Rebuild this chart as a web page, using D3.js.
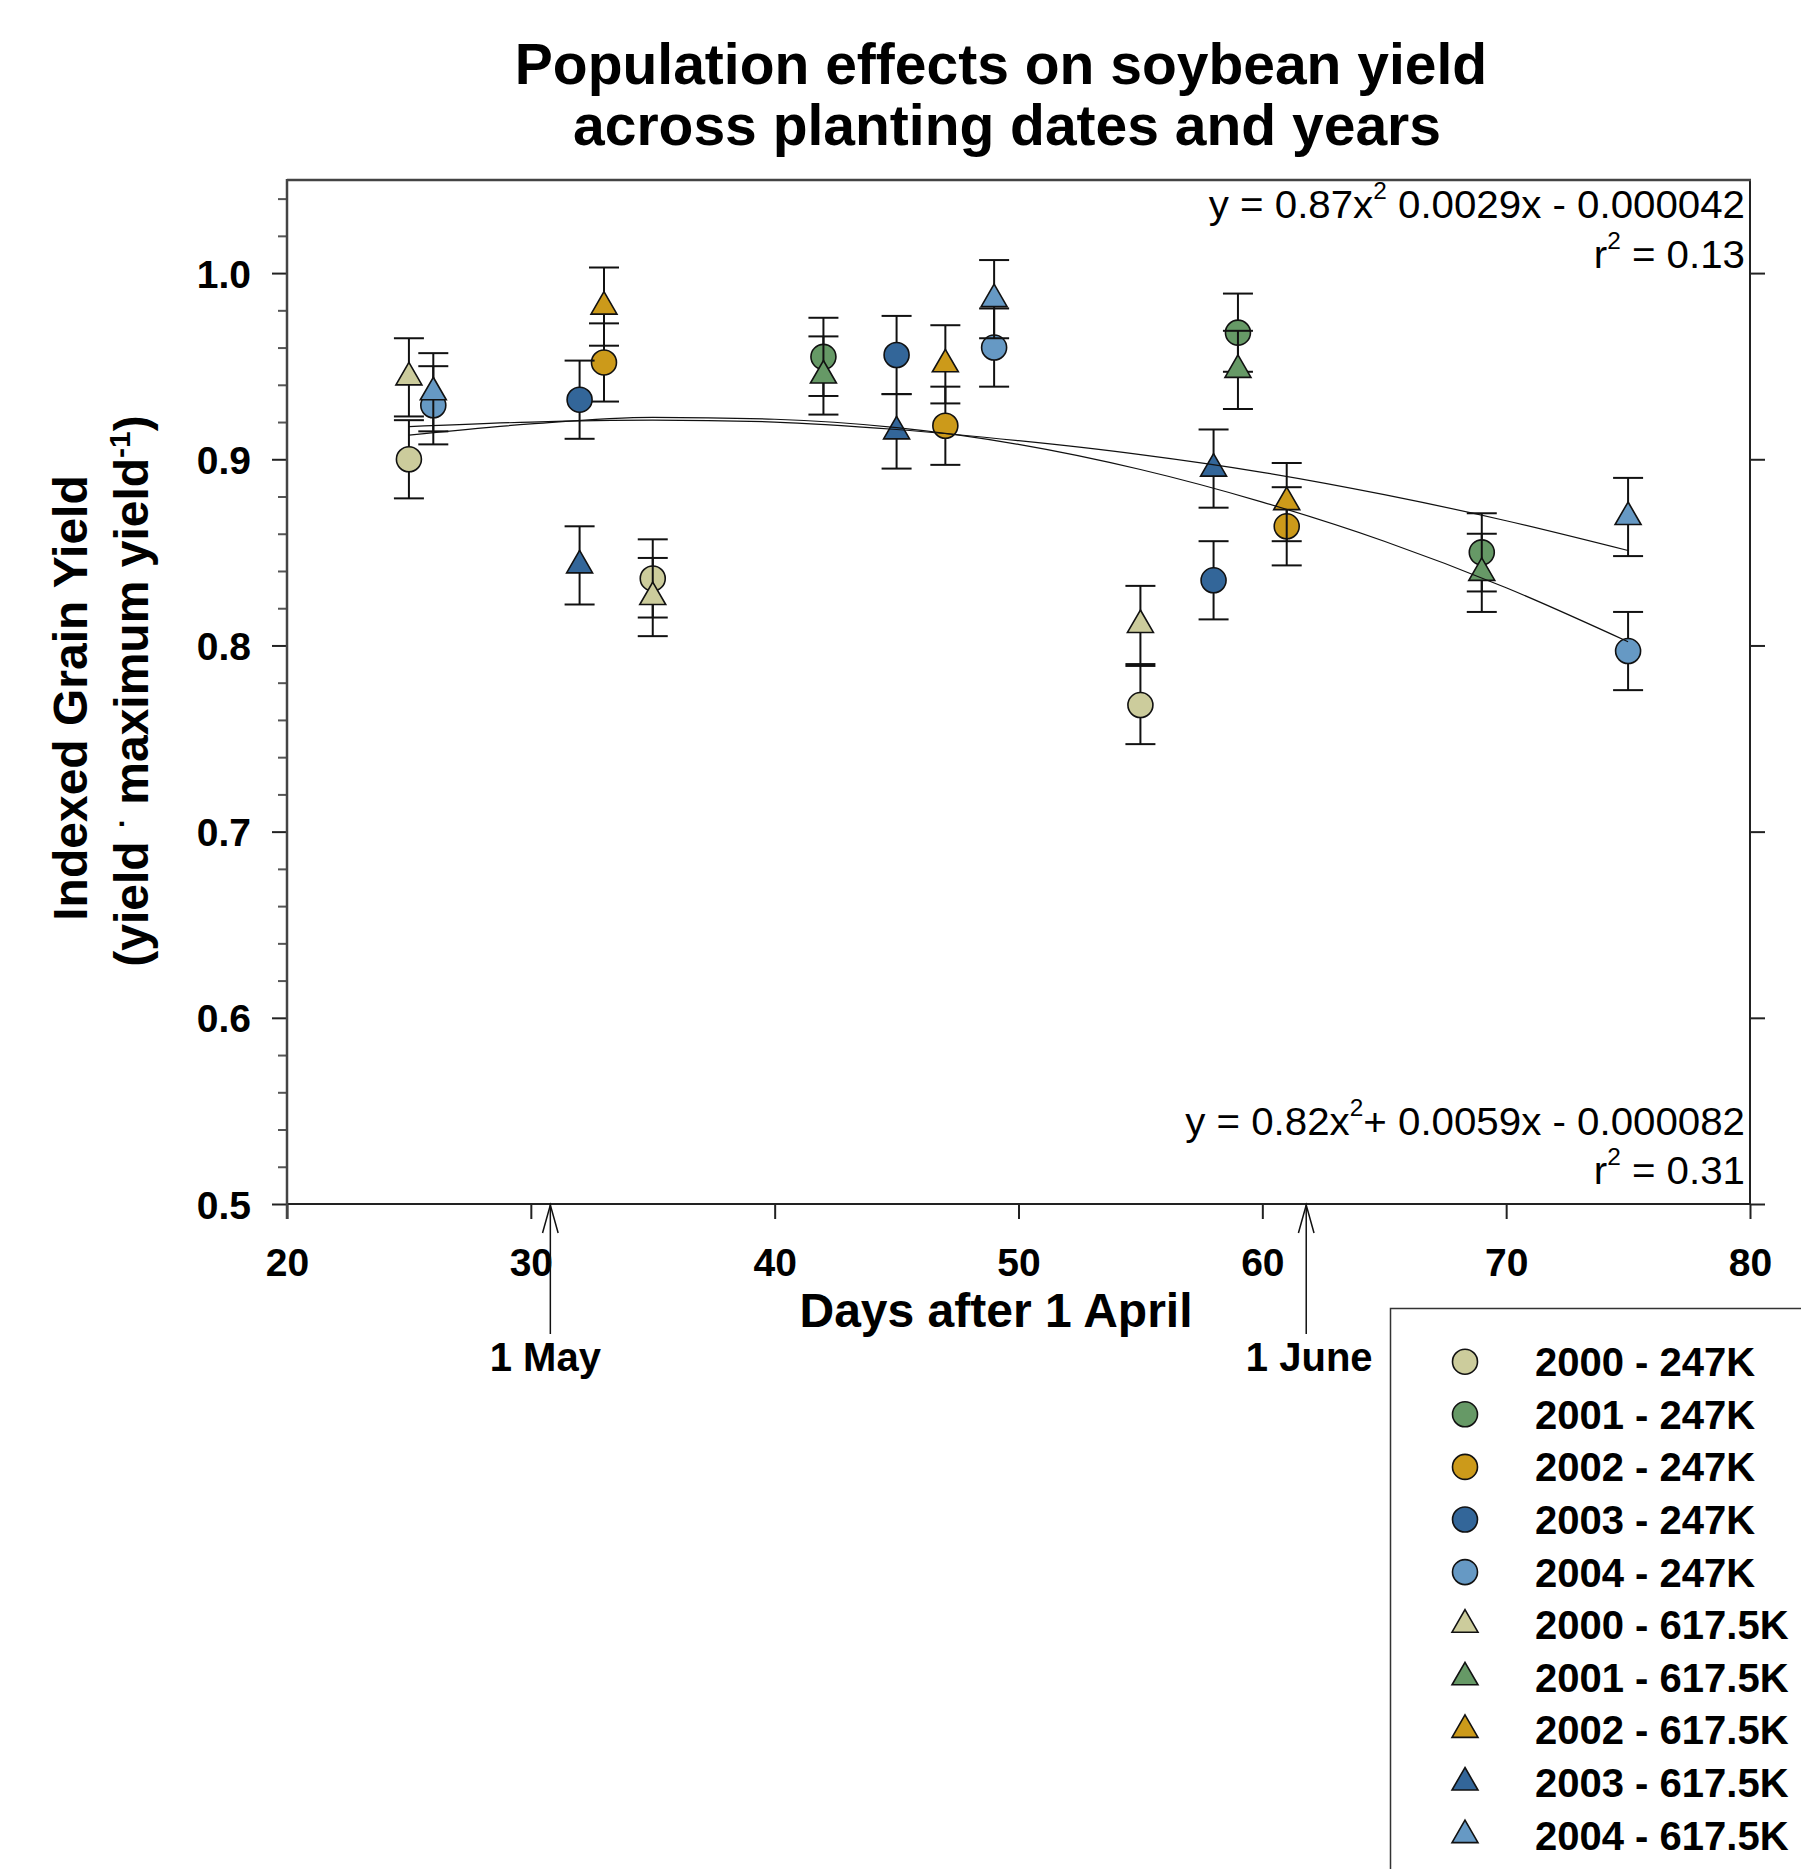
<!DOCTYPE html>
<html>
<head>
<meta charset="utf-8">
<script src="https://cdn.jsdelivr.net/npm/d3@7/dist/d3.min.js"></script>
<style>
  body { margin: 0; background: #fff; }
  svg { display: block; font-family: "Liberation Sans", Arial, sans-serif; }
</style>
</head>
<body>
<svg id="chart" width="1801" height="1869"></svg>
<script>
// ---- data ----
const seriesNames = ["2000 - 247K", "2001 - 247K", "2002 - 247K", "2003 - 247K", "2004 - 247K",
  "2000 - 617.5K", "2001 - 617.5K", "2002 - 617.5K", "2003 - 617.5K", "2004 - 617.5K"];
const seriesColors = ["#cccc9c", "#669966", "#cc9a1a", "#336699", "#6699c4",
  "#cccc9c", "#669966", "#cc9a1a", "#336699", "#6699c4"];
const seriesShapes = ["circle", "circle", "circle", "circle", "circle",
  "triangle", "triangle", "triangle", "triangle", "triangle"];
const seriesDays = [
  [25, 35, 55], [42, 59, 69], [33, 47, 61], [32, 45, 58], [26, 49, 75],
  [25, 35, 55], [42, 59, 69], [33, 47, 61], [32, 45, 58], [26, 49, 75]
];
const seriesYield = [
  [0.900, 0.836, 0.768], [0.955, 0.968, 0.850], [0.952, 0.918, 0.864], [0.932, 0.956, 0.835], [0.929, 0.960, 0.797],
  [0.944, 0.826, 0.811], [0.945, 0.948, 0.839], [0.982, 0.951, 0.877], [0.843, 0.915, 0.895], [0.936, 0.986, 0.869]
];
const seriesErr = [
  [0.021, 0.021, 0.021], [0.021, 0.021, 0.021], [0.021, 0.021, 0.021], [0.021, 0.021, 0.021], [0.021, 0.021, 0.021],
  [0.021, 0.021, 0.021], [0.021, 0.021, 0.021], [0.021, 0.021, 0.021], [0.021, 0.020, 0.021], [0.021, 0.021, 0.021]
];

// regression curves
const fitDays = [25, 30, 35, 40, 45, 50, 55, 60, 65, 70, 75];
const fitUpper = [0.9175, 0.920, 0.921, 0.920, 0.916, 0.910, 0.9025, 0.893, 0.881, 0.867, 0.851];
const fitLower = [0.913, 0.919, 0.9225, 0.9215, 0.917, 0.908, 0.8945, 0.877, 0.856, 0.831, 0.802];

const xTicks = [20, 30, 40, 50, 60, 70, 80];
const yTicks = [0.5, 0.6, 0.7, 0.8, 0.9, 1.0];
const yTickLabels = ["0.5", "0.6", "0.7", "0.8", "0.9", "1.0"];
const yMinorTicks = d3.range(0.52, 1.05, 0.02).filter(v => Math.abs(v * 10 - Math.round(v * 10)) > 0.01);

const markDays = [30.8, 61.8];
const markLabels = ["1 May", "1 June"];

// ---- layout ----
const svg = d3.select("#chart");
const pLeft = 287, pRight = 1750, pTop = 180, pBottom = 1204;
const font = "'Liberation Sans', Arial, sans-serif";

const x = d3.scaleLinear().domain([20, 80]).range([pLeft, pRight]);
const y = d3.scaleLinear().domain([0.5, 1.05]).range([pBottom, pTop]);

svg.append("rect").attr("width", 1801).attr("height", 1869).attr("fill", "#fff");

// title
const title = svg.append("text")
  .attr("text-anchor", "middle")
  .style("font-weight", "bold").style("font-size", "57px");
title.append("tspan").attr("x", 1001).attr("y", 84).text("Population effects on soybean yield");
title.append("tspan").attr("x", 1007).attr("y", 145).text("across planting dates and years");

// axes
const yMinor = svg.append("g").attr("transform", `translate(${pLeft},0)`)
  .call(d3.axisLeft(y).tickValues(yMinorTicks).tickSize(9).tickFormat(""));
const yAxis = svg.append("g").attr("transform", `translate(${pLeft},0)`)
  .call(d3.axisLeft(y).tickValues(yTicks).tickSize(15).tickPadding(21)
    .tickFormat((d, i) => yTickLabels[i]));
const yRight = svg.append("g").attr("transform", `translate(${pRight},0)`)
  .call(d3.axisLeft(y).tickValues(yTicks).tickSize(-15).tickFormat(""));
const xAxis = svg.append("g").attr("transform", `translate(0,${pBottom})`)
  .call(d3.axisBottom(x).tickValues(xTicks).tickSize(15).tickPadding(29).tickFormat(d3.format("d")));

[yMinor, yAxis, yRight, xAxis].forEach(g => {
  g.select(".domain").remove();
  g.selectAll("line").attr("stroke", "#222").attr("stroke-width", 2);
  g.selectAll("text").attr("fill", "#000")
    .style("font-family", font).style("font-weight", "bold").style("font-size", "39px");
});
yMinor.selectAll("line").attr("stroke", "#555");
yAxis.selectAll("text").attr("dy", "0.36em");

// frame
svg.append("line").attr("x1", pLeft).attr("x2", pRight).attr("y1", pBottom).attr("y2", pBottom)
  .attr("stroke", "#222").attr("stroke-width", 2);
svg.append("line").attr("x1", pRight).attr("x2", pRight).attr("y1", pTop).attr("y2", pBottom)
  .attr("stroke", "#222").attr("stroke-width", 2);
svg.append("line").attr("x1", pLeft).attr("x2", pLeft).attr("y1", pTop - 1).attr("y2", pBottom + 15)
  .attr("stroke", "#444").attr("stroke-width", 2.5);
svg.append("line").attr("x1", pLeft).attr("x2", pRight + 1).attr("y1", pTop).attr("y2", pTop)
  .attr("stroke", "#444").attr("stroke-width", 2.5);

// axis titles
svg.append("text").attr("x", 996).attr("y", 1327).attr("text-anchor", "middle")
  .style("font-weight", "bold").style("font-size", "48px").text("Days after 1 April");

svg.append("text").attr("transform", "translate(87,698) rotate(-90)").attr("text-anchor", "middle")
  .style("font-weight", "bold").style("font-size", "48px").text("Indexed Grain Yield");
const yt2 = svg.append("text").attr("transform", "translate(148,691) rotate(-90)").attr("text-anchor", "middle")
  .style("font-weight", "bold").style("font-size", "48px");
yt2.append("tspan").text("(yield ");
yt2.append("tspan").attr("dy", -16).style("font-size", "30px").text("·");
yt2.append("tspan").attr("dy", 16).text(" maximum yield");
yt2.append("tspan").attr("dy", -18).style("font-size", "30px").text("-1");
yt2.append("tspan").attr("dy", 18).text(")");

// data: error bars + markers
const symCircle = d3.symbol().type(d3.symbolCircle).size(Math.PI * 12.5 * 12.5);
const symTri = d3.symbol().type(d3.symbolTriangle).size(292);

const plot = svg.append("g");
seriesNames.forEach((name, s) => {
  const pts = seriesDays[s].map((d, i) => ({ d, v: seriesYield[s][i], e: seriesErr[s][i] }));
  const g = plot.append("g");
  const eb = g.selectAll("g.eb").data(pts).join("g").attr("stroke", "#111").attr("stroke-width", 2);
  eb.append("line").attr("x1", p => x(p.d)).attr("x2", p => x(p.d))
    .attr("y1", p => y(p.v + p.e)).attr("y2", p => y(p.v - p.e));
  eb.append("line").attr("x1", p => x(p.d) - 15).attr("x2", p => x(p.d) + 15)
    .attr("y1", p => y(p.v + p.e)).attr("y2", p => y(p.v + p.e));
  eb.append("line").attr("x1", p => x(p.d) - 15).attr("x2", p => x(p.d) + 15)
    .attr("y1", p => y(p.v - p.e)).attr("y2", p => y(p.v - p.e));
  g.selectAll("path.m").data(pts).join("path")
    .attr("d", seriesShapes[s] === "circle" ? symCircle() : symTri())
    .attr("transform", p => `translate(${x(p.d)},${y(p.v)})`)
    .attr("fill", seriesColors[s]).attr("stroke", "#111").attr("stroke-width", 1.6);
});

// regression curves
const curve = d3.line().x((d, i) => x(fitDays[i])).y(d => y(d)).curve(d3.curveMonotoneX);
[fitUpper, fitLower].forEach(f => {
  svg.append("path").attr("d", curve(f)).attr("fill", "none").attr("stroke", "#111").attr("stroke-width", 1.2);
});

// equations
function equation(yPos, parts) {
  const t = svg.append("text").attr("transform", `translate(1745,${yPos}) scale(1.06,1)`)
    .attr("text-anchor", "end").style("font-size", "38px");
  let raised = false;
  parts.forEach(([str, sup]) => {
    const ts = t.append("tspan").text(str);
    if (sup) { ts.attr("dy", -19).style("font-size", "23px"); raised = true; }
    else if (raised) { ts.attr("dy", 19); raised = false; }
  });
}
equation(218, [["y = 0.87x"], ["2", true], [" 0.0029x - 0.000042"]]);
equation(268, [["r"], ["2", true], [" = 0.13"]]);
equation(1135, [["y = 0.82x"], ["2", true], ["+ 0.0059x - 0.000082"]]);
equation(1184, [["r"], ["2", true], [" = 0.31"]]);

// date arrows
markDays.forEach((d, i) => {
  const ax = x(d);
  const g = svg.append("g").attr("stroke", "#111").attr("stroke-width", 1.5).attr("fill", "none");
  g.append("line").attr("x1", ax).attr("x2", ax).attr("y1", 1334).attr("y2", pBottom + 1);
  g.append("path").attr("d", `M${ax - 7.8},${pBottom + 29}L${ax},${pBottom + 1}L${ax + 7.8},${pBottom + 29}`);
  svg.append("text").attr("x", ax - (i === 0 ? 5 : -3)).attr("y", 1371).attr("text-anchor", "middle")
    .style("font-weight", "bold").style("font-size", "40px").text(markLabels[i]);
});

// legend
const legX = 1390.5, legY = 1308.5, rowH = 52.6;
svg.append("rect").attr("x", legX).attr("y", legY).attr("width", 500).attr("height", 700)
  .attr("fill", "#fff").attr("stroke", "#333").attr("stroke-width", 1.5);
seriesNames.forEach((name, s) => {
  const cy = 1361.7 + s * rowH;
  svg.append("path").attr("d", seriesShapes[s] === "circle" ? symCircle() : symTri())
    .attr("transform", `translate(1465,${cy})`)
    .attr("fill", seriesColors[s]).attr("stroke", "#111").attr("stroke-width", 1.6);
  svg.append("text").attr("x", 1535).attr("y", cy + 14.5)
    .style("font-weight", "bold").style("font-size", "40px").text(name);
});
</script>
</body>
</html>
